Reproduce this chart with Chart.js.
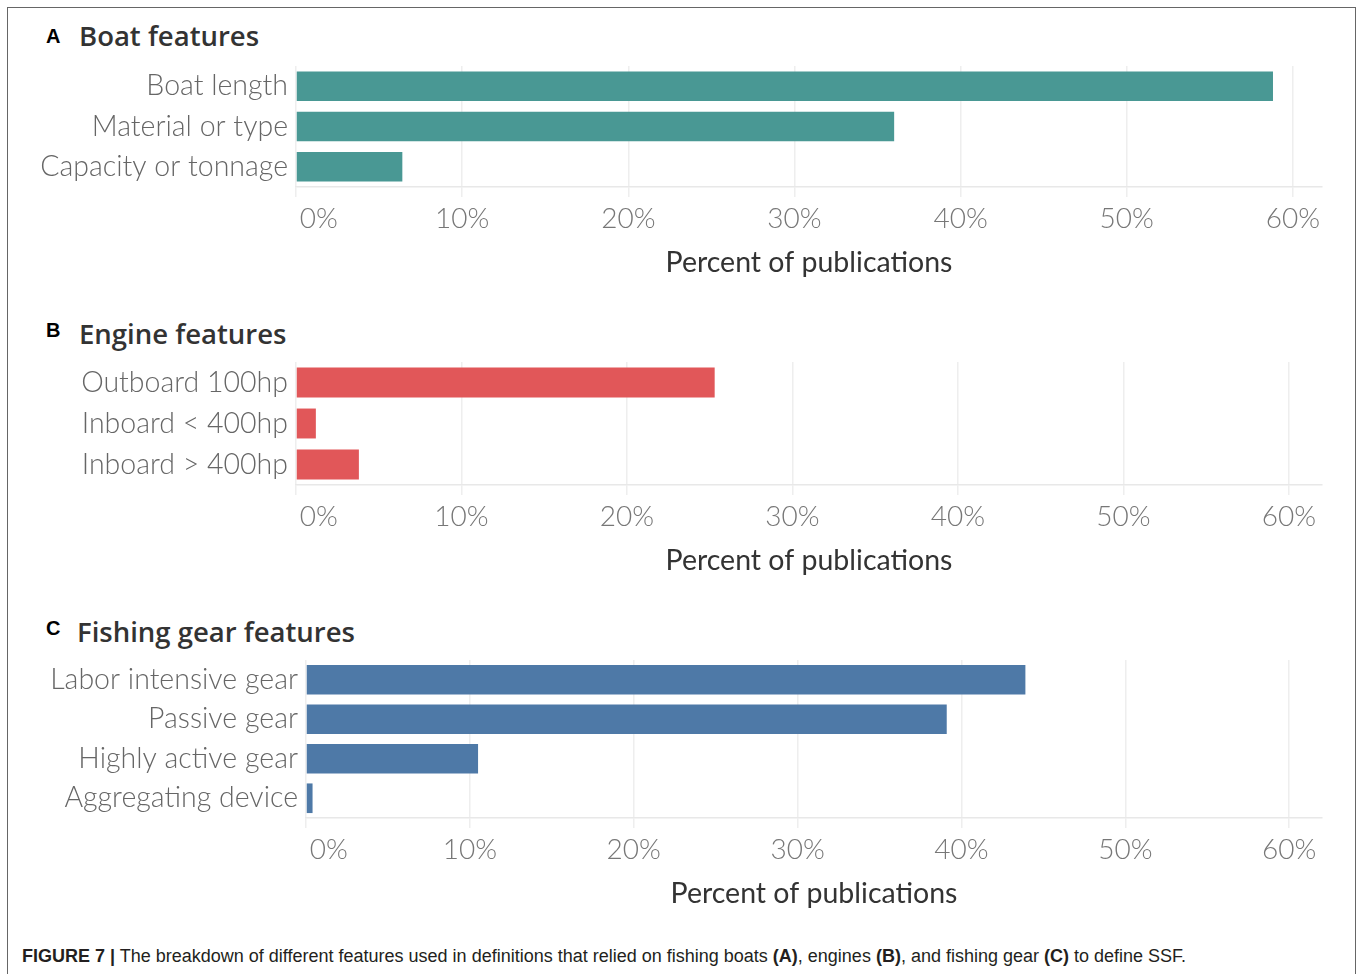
<!DOCTYPE html>
<html>
<head>
<meta charset="utf-8">
<script src="https://cdn.jsdelivr.net/npm/chart.js@4/dist/chart.umd.min.js"></script>
<style>
  body { margin: 0; background: #fff; width: 1358px; height: 974px; overflow: hidden; position: relative; }
  #frame { position: absolute; left: 7px; top: 7px; width: 1347px; height: 1000px; border: 1.5px solid #666; }
  .letter { position: absolute; left: 46px; font: bold 20px "Liberation Sans", Arial, sans-serif; color: #000; transform: translateY(-50%); line-height: 1; }
  .title { position: absolute; font: 600 27.5px "Open Sans", sans-serif; color: #333; transform: translateY(-50%); line-height: 1; }
  .box { position: absolute; left: 10px; width: 1340px; }
  #caption { position: absolute; left: 22px; top: 946px; font: 18px "Liberation Sans", Arial, sans-serif; color: #231f20; white-space: nowrap; }
</style>
</head>
<body>
<div id="frame"></div>

<div class="letter" style="top:36px">A</div>
<div class="title" style="left:79px;top:36px">Boat features</div>
<div class="box" id="boxA"><canvas id="chartA"></canvas></div>

<div class="letter" style="top:330px">B</div>
<div class="title" style="left:79px;top:334px">Engine features</div>
<div class="box" id="boxB"><canvas id="chartB"></canvas></div>

<div class="letter" style="top:628px">C</div>
<div class="title" style="left:77px;top:632px">Fishing gear features</div>
<div class="box" id="boxC"><canvas id="chartC"></canvas></div>

<div id="caption"><b>FIGURE 7 |</b> The breakdown of different features used in definitions that relied on fishing boats <b>(A)</b>, engines <b>(B)</b>, and fishing gear <b>(C)</b> to define SSF.</div>

<script>
// panel A
const boatLabels = ['Boat length', 'Material or type', 'Capacity or tonnage'];
const boatValues = [58.8, 36.0, 6.4];
// panel B
const engineLabels = ['Outboard 100hp', 'Inboard < 400hp', 'Inboard > 400hp'];
const engineValues = [25.3, 1.2, 3.8];
// panel C
const gearLabels = ['Labor intensive gear', 'Passive gear', 'Highly active gear', 'Aggregating device'];
const gearValues = [43.9, 39.1, 10.5, 0.4];

const tickStep = 10;
const axisTitle = 'Percent of publications';

function makeChart(id, boxId, labels, values, color, opts) {
  const box = document.getElementById(boxId);
  const top = opts.plotTop - 6;
  const height = opts.axisY + 96 - top;
  box.style.top = top + 'px';
  box.style.height = height + 'px';

  new Chart(document.getElementById(id), {
    type: 'bar',
    data: {
      labels: labels,
      datasets: [{
        data: values,
        backgroundColor: color,
        barPercentage: opts.barPct,
        categoryPercentage: 1
      }]
    },
    options: {
      indexAxis: 'y',
      responsive: true,
      maintainAspectRatio: false,
      animation: false,
      layout: { padding: { top: 6, right: 28, bottom: 0, left: 0 } },
      plugins: { legend: { display: false }, tooltip: { enabled: false } },
      scales: {
        x: {
          min: 0,
          max: opts.max,
          afterFit: s => { s.height = 96; s.paddingLeft = 0; s.paddingRight = 0; },
          grid: { color: '#eeeeee', lineWidth: 1.5, tickLength: 10 },
          border: { color: '#e8e8e8', width: 1.5 },
          ticks: {
            stepSize: tickStep,
            includeBounds: false,
            padding: 5,
            color: '#777',
            font: { family: 'Lato', size: 28, weight: '300' },
            callback: v => (v === 0 ? '      0%' : v + '%')
          },
          title: {
            display: true,
            text: axisTitle,
            color: '#333',
            padding: { top: 0, bottom: 3 },
            font: { family: 'Lato', size: 28.5, weight: '400' }
          }
        },
        y: {
          afterFit: s => { s.width = opts.yWidth; s.paddingTop = 0; s.paddingBottom = 0; },
          grid: { display: false, drawTicks: false },
          border: { display: false },
          ticks: {
            padding: 8,
            color: '#666',
            font: { family: 'Lato', size: 28.5, weight: '300' }
          }
        }
      }
    }
  });
}

makeChart('chartA', 'boxA', boatLabels, boatValues, '#499894',
  { plotTop: 66, axisY: 187, max: 61.75, yWidth: 286, barPct: 0.73 });
makeChart('chartB', 'boxB', engineLabels, engineValues, '#e15759',
  { plotTop: 362, axisY: 485, max: 62, yWidth: 286, barPct: 0.73 });
makeChart('chartC', 'boxC', gearLabels, gearValues, '#4e79a7',
  { plotTop: 660, axisY: 818, max: 62, yWidth: 296, barPct: 0.75 });
</script>
</body>
</html>
